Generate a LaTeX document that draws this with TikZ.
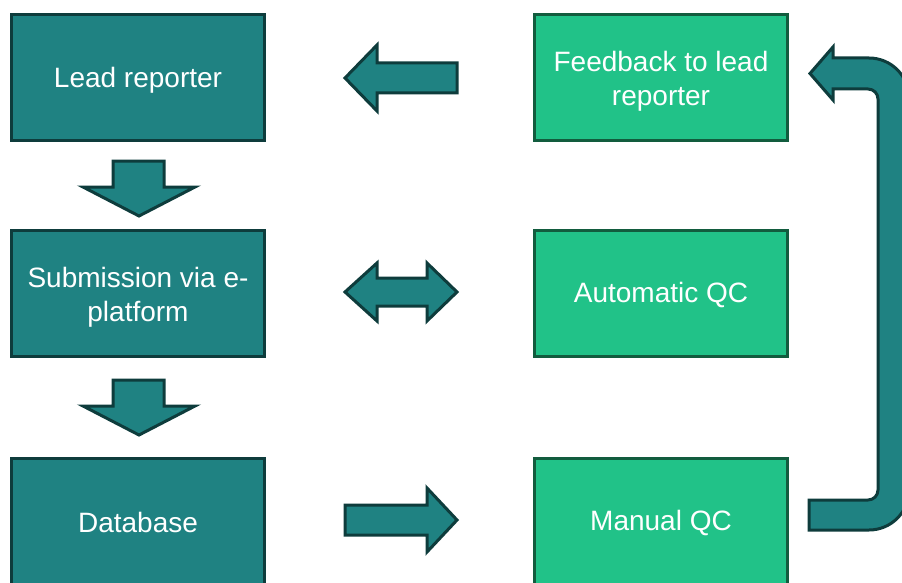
\documentclass[tikz,border=0pt]{standalone}
\usepackage{fontspec}
\setmainfont{Liberation Sans}
\definecolor{tealfill}{RGB}{31,130,130}
\definecolor{tealline}{RGB}{14,60,60}
\definecolor{greenfill}{RGB}{33,194,136}
\definecolor{greenline}{RGB}{18,92,62}
\tikzset{
  lbox/.style={draw=tealline, fill=tealfill, line width=3pt, minimum width=253pt, minimum height=126pt,
    inner sep=0pt},
  rbox/.style={draw=greenline, fill=greenfill, line width=3pt, minimum width=253pt, minimum height=126pt,
    inner sep=0pt},
  boxtext/.style={inner sep=0pt, text=white, align=center, font=\fontsize{28}{34}\selectfont},
  blockarrow/.style={draw=tealline, fill=tealfill, line width=3pt, line join=miter}
}
\begin{document}
\begin{tikzpicture}[x=1pt,y=-1pt]
\useasboundingbox (0,0) rectangle (902,583);
\clip (0,0) rectangle (902,583);
\fill[white] (0,0) rectangle (902,583);
% left column
\node[lbox] (lead) at (138,77.5) {};
\node[lbox] (sub) at (138,293.5) {};
\node[lbox] (db) at (138,521.5) {};
\node[boxtext] (leadt) at ([yshift=-3pt]lead.center) {Lead reporter};
\node[boxtext] (subt) at ([yshift=-4pt]sub.center) {Submission via e-\\platform};
\node[boxtext] (dbt) at ([yshift=-1pt]db.center) {Database};
% right column
\node[rbox] (fb) at (661,77.5) {};
\node[rbox] (aqc) at (661,293.5) {};
\node[rbox] (mqc) at (661,521.5) {};
\node[boxtext] (fbt) at ([yshift=-4pt]fb.center) {Feedback to lead\\reporter};
\node[boxtext] (aqct) at ([yshift=-1pt]aqc.center) {Automatic QC};
\node[boxtext] (mqct) at ([yshift=-1pt]mqc.center) {Manual QC};
% down arrows
\draw[blockarrow] (113,161) -- (164,161) -- (164,187) -- (195,187) -- (139,216) -- (83,187) -- (113,187) -- cycle;
\draw[blockarrow] (113,380) -- (164,380) -- (164,406) -- (195,406) -- (139,435) -- (83,406) -- (113,406) -- cycle;
% left arrow (feedback -> lead)
\draw[blockarrow] (345,78) -- (377,45) -- (377,63) -- (457,63) -- (457,93) -- (377,93) -- (377,111) -- cycle;
% double arrow
\draw[blockarrow] (345,292) -- (377,263) -- (377,278) -- (427,278) -- (427,263) -- (457,292) -- (427,321) -- (427,306) -- (377,306) -- (377,321) -- cycle;
% right arrow
\draw[blockarrow] (345,505) -- (427,505) -- (427,488) -- (457,520) -- (427,552) -- (427,535) -- (345,535) -- cycle;
% U-turn arrow
\draw[blockarrow] (810,73.5) -- (833,47) -- (833,58) -- (869,58)
  arc[start angle=90, end angle=0, radius=40pt] -- (909,490)
  arc[start angle=0, end angle=-90, radius=40pt] -- (809,530) -- (809,500) -- (868,500)
  arc[start angle=-90, end angle=0, radius=10pt] -- (878,99)
  arc[start angle=0, end angle=90, radius=10pt] -- (833,89) -- (833,100) -- cycle;
\end{tikzpicture}
\end{document}
